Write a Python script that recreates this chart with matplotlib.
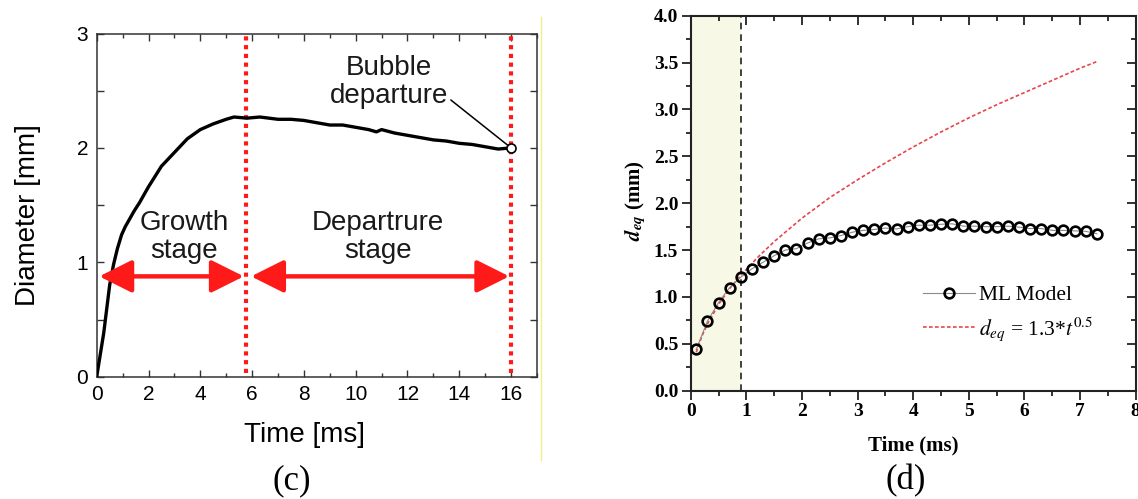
import numpy as np
import matplotlib
matplotlib.use("Agg")
import matplotlib.pyplot as plt
from matplotlib.patches import FancyArrowPatch
from matplotlib.lines import Line2D
from matplotlib.ticker import MultipleLocator, FormatStrFormatter

plt.rcParams['mathtext.fontset'] = 'stix'

# ---------------- data: panel (c) ----------------
c_time = [0, 0.27, 0.5, 0.65, 0.8, 0.96, 1.1, 1.3, 1.45, 1.65, 2.0, 2.5, 3.0, 3.5, 4.0, 4.5, 5.0, 5.3,
          5.8, 6.3, 7.0, 7.5, 8.0, 8.5, 9.0, 9.5, 10.0, 10.5, 10.8, 11.0, 11.5, 12.0,
          12.5, 13.0, 13.5, 14.0, 14.5, 15.0, 15.5, 16.0]
c_diam = [0, 0.38, 0.80, 0.98, 1.12, 1.24, 1.31, 1.39, 1.45, 1.52, 1.66, 1.84, 1.96, 2.08, 2.16, 2.21, 2.25, 2.27,
          2.26, 2.27, 2.25, 2.25, 2.24, 2.22, 2.20, 2.20, 2.18, 2.16, 2.14, 2.16, 2.13, 2.11,
          2.09, 2.07, 2.06, 2.04, 2.03, 2.01, 1.99, 2.00]
c_stage_bounds = [0, 5.76, 16.0]
c_departure = (16.0, 2.0)

# ---------------- data: panel (d) ----------------
d_time = [0.1, 0.3, 0.5, 0.7, 0.9, 1.1, 1.3, 1.5, 1.7, 1.9, 2.1, 2.3, 2.5, 2.7, 2.9,
          3.1, 3.3, 3.5, 3.7, 3.9, 4.1, 4.3, 4.5, 4.7, 4.9, 5.1, 5.3, 5.5, 5.7, 5.9,
          6.1, 6.3, 6.5, 6.7, 6.9, 7.1, 7.3]
d_ml = [0.44, 0.74, 0.94, 1.10, 1.21, 1.30, 1.37, 1.44, 1.50, 1.515, 1.575, 1.62, 1.63, 1.655, 1.69,
        1.71, 1.72, 1.735, 1.725, 1.75, 1.765, 1.765, 1.775, 1.78, 1.755, 1.755, 1.75, 1.75, 1.755, 1.745,
        1.73, 1.73, 1.71, 1.71, 1.705, 1.70, 1.675]
fit_time = [0.1, 0.2, 0.3, 0.5, 0.7, 0.9, 1.2, 1.5, 2.0, 2.5, 3.0, 3.5, 4.0, 4.5, 5.0,
            5.5, 6.0, 6.5, 7.0, 7.3]
fit_d = [0.41, 0.58, 0.71, 0.92, 1.09, 1.23, 1.42, 1.59, 1.84, 2.06, 2.25, 2.43, 2.60, 2.76, 2.91,
         3.05, 3.18, 3.31, 3.44, 3.51]
shade_end = 0.9

W, H = 1138, 499
fig = plt.figure(figsize=(W / 100, H / 100), dpi=100)

# ================= panel (c) =================
sans = 'Liberation Sans'
ax1 = fig.add_axes([96.7 / W, 1 - 376.7 / H, (537 - 96.7) / W, (376.7 - 33.5) / H])
ax1.plot(c_time, c_diam, color='black', lw=2.4, solid_joinstyle='round', zorder=3)
ax1.set_xlim(0, 17)
ax1.set_ylim(0, 3)
ax1.xaxis.set_major_locator(MultipleLocator(2))
ax1.xaxis.set_minor_locator(MultipleLocator(1))
ax1.yaxis.set_major_locator(MultipleLocator(1))
ax1.yaxis.set_minor_locator(MultipleLocator(0.5))
ax1.tick_params(which='both', direction='in', top=True, right=True, width=1.0, color='#333333')
ax1.tick_params(which='major', length=5, labelsize=15, pad=6)
ax1.tick_params(axis='y', which='minor', length=5)
ax1.tick_params(axis='x', which='minor', length=3)
for lab in ax1.get_xticklabels() + ax1.get_yticklabels():
    lab.set_fontfamily(sans)
for s in ax1.spines.values():
    s.set_linewidth(1.1)
    s.set_color('#333333')
ax1.set_xlabel('Time [ms]', fontsize=20, fontfamily=sans)
ax1.xaxis.set_label_coords(0.473, -0.17)
ax1.xaxis.label.set_verticalalignment('center')
ax1.set_ylabel('Diameter [mm]', fontsize=20, fontfamily=sans)
ax1.yaxis.set_label_coords(-0.156, 0.471)
ax1.yaxis.label.set_verticalalignment('center')

# stage boundaries
for xb in c_stage_bounds[1:]:
    ax1.axvline(xb, ymin=0.01, ymax=0.995, color='#ff1a1a', lw=3.0,
                linestyle=(0, (1.0, 1.1)), zorder=2)

# stage arrows
arrow_y = 0.877
for x0, x1 in [(c_stage_bounds[0] + 0.1, c_stage_bounds[1] - 0.08),
               (c_stage_bounds[1] + 0.2, c_stage_bounds[2] - 0.07)]:
    arr = FancyArrowPatch((x0, arrow_y), (x1, arrow_y),
                          arrowstyle='<|-|>,head_length=20,head_width=10',
                          mutation_scale=1, color='#ff1a1a', lw=3.2,
                          shrinkA=0, shrinkB=0, zorder=4)
    ax1.add_patch(arr)

ax1.text(3.37, 1.22, 'Growth\nstage', ha='center', va='center', fontsize=20,
         fontfamily=sans, linespacing=1.1, color='#1a1a1a')
ax1.text(10.87, 1.22, 'Departrure\nstage', ha='center', va='center', fontsize=20,
         fontfamily=sans, linespacing=1.1, color='#1a1a1a')
ax1.annotate('Bubble\ndeparture', xy=c_departure, xytext=(11.28, 2.58),
             ha='center', va='center', fontsize=20, fontfamily=sans, linespacing=1.1,
             color='#1a1a1a',
             arrowprops=dict(arrowstyle='-', color='black', lw=1.1,
                             shrinkA=0, shrinkB=3,
                             relpos=(1.0, 0.2)))
ax1.plot([c_departure[0]], [c_departure[1]], marker='o', ms=6.5, mfc='white',
         mec='black', mew=1.2, zorder=5, clip_on=False)

fig.text(292 / W, 1 - 481 / H, '(c)', ha='center', va='center', fontsize=25,
         fontfamily='Liberation Serif')

# yellow edge line (scan artifact)
fig.add_artist(Line2D([540.7 / W, 540.7 / W], [1 - 17 / H, 1 - 460 / H],
                      color='#f3ee8a', lw=1.0))

# ================= panel (d) =================
serif = 'Liberation Serif'
ax2 = fig.add_axes([690.7 / W, 1 - 390.7 / H, (1135.7 - 690.7) / W, (390.7 - 15.7) / H])
ax2.axvspan(0, shade_end, color='#f8f8e7', zorder=0, lw=0)
ax2.axvline(shade_end, color='#222222', lw=1.2, linestyle=(0, (4, 3)), zorder=1)
ax2.plot(fit_time, fit_d, color='#e8454a', lw=1.2, linestyle=(0, (2.2, 1.4)), zorder=2,
         label=r'$d_{eq}$ = 1.3*$t^{0.5}$')
ax2.plot(d_time, d_ml, color='#8a8a8a', lw=0.8, marker='o', ms=7, mfc='none', mec='black',
         mew=1.9, zorder=3, label='ML Model')
ax2.set_xlim(0, 8)
ax2.set_ylim(0, 4)
ax2.xaxis.set_major_locator(MultipleLocator(1))
ax2.xaxis.set_minor_locator(MultipleLocator(0.5))
ax2.yaxis.set_major_locator(MultipleLocator(0.5))
ax2.yaxis.set_minor_locator(MultipleLocator(0.25))
ax2.yaxis.set_major_formatter(FormatStrFormatter('%.1f'))
ax2.tick_params(which='both', direction='out', width=1.3, color='#222222')
ax2.tick_params(which='major', length=6.5, labelsize=14, pad=2.5)
ax2.tick_params(which='minor', length=3.5)
ax2.tick_params(which='both', top=True, right=True)
# top/right ticks inward
for t in ax2.xaxis.get_major_ticks() + ax2.xaxis.get_minor_ticks():
    t.tick2line.set_marker(3)  # TICKDOWN
for t in ax2.yaxis.get_major_ticks() + ax2.yaxis.get_minor_ticks():
    t.tick2line.set_marker(0)  # TICKLEFT
for lab in ax2.get_xticklabels() + ax2.get_yticklabels():
    lab.set_fontfamily(serif)
    lab.set_fontweight('bold')
for s in ax2.spines.values():
    s.set_linewidth(1.5)
    s.set_color('#222222')
ax2.set_xlabel('Time (ms)', fontsize=15, fontfamily=serif, fontweight='bold')
ax2.xaxis.set_label_coords(0.4996, -0.145)
ax2.xaxis.label.set_verticalalignment('center')
ax2.set_ylabel(r'$\mathbfit{d}_{\mathbfit{eq}}$ (mm)', fontsize=15, fontfamily=serif,
               fontweight='bold')
ax2.yaxis.set_label_coords(-0.125, 0.506)
ax2.yaxis.label.set_verticalalignment('center')

handles, labels = ax2.get_legend_handles_labels()
leg = ax2.legend(handles[::-1], labels[::-1], loc='center left',
                 bbox_to_anchor=(0.522, 0.2045), frameon=False,
                 prop={'family': serif, 'size': 15.5}, handlelength=2.4,
                 handletextpad=0.2, labelspacing=0.45, borderpad=0, borderaxespad=0)

fig.text(905.7 / W, 1 - 481 / H, '(d)', ha='center', va='center', fontsize=25,
         fontfamily=serif)

fig.savefig('out.png', dpi=100)
